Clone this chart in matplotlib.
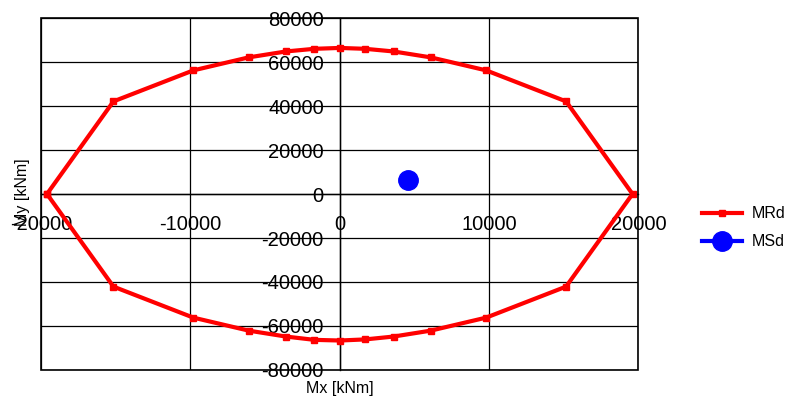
import matplotlib
matplotlib.use("Agg")
import matplotlib.pyplot as plt
from matplotlib.patches import Rectangle

plt.rcParams['font.family'] = ['Liberation Sans', 'DejaVu Sans']

# Resistance envelope MRd (closed polygon)
mrd_x = [-19600, -15150, -9800, -6100, -3600, -1700, 0, 1700, 3600, 6100, 9800, 15150, 19600,
         15150, 9800, 6100, 3600, 1700, 0, -1700, -3600, -6100, -9800, -15150, -19600]
mrd_y = [0, 42100, 56200, 62100, 64800, 66000, 66400, 66000, 64800, 62100, 56200, 42100, 0,
         -42100, -56200, -62100, -64800, -66100, -66600, -66300, -64800, -62100, -56200, -42100, 0]

# Design moment MSd
msd_x = [4600]
msd_y = [6400]

x_ticks = [-20000, -10000, 0, 10000, 20000]
y_ticks = [-80000, -60000, -40000, -20000, 0, 20000, 40000, 60000, 80000]

fig = plt.figure(figsize=(7.87, 4.03), dpi=100)
ax = fig.add_axes([0.0521, 0.0819, 0.7592, 0.8734])

ax.plot(mrd_x, mrd_y, color='#ff0000', lw=3.0, marker='s', markersize=5, label='MRd', zorder=3)
ax.plot(msd_x, msd_y, color='#0000ff', lw=3.0, marker='o', markersize=14, label='MSd', zorder=4)

ax.set_xlim(-20000, 20000)
ax.set_ylim(-80000, 80000)
ax.set_xticks(x_ticks)
ax.set_yticks(y_ticks)
ax.set_xticklabels([str(v) for v in x_ticks])
ax.set_yticklabels([str(v) for v in y_ticks])

ax.grid(True, color='black', lw=0.9)
ax.set_axisbelow(True)

ax.spines['left'].set_position(('data', 0))
ax.spines['bottom'].set_position(('data', 0))
for s in ['left', 'bottom']:
    ax.spines[s].set_linewidth(1.0)
    ax.spines[s].set_color('black')
for s in ['top', 'right']:
    ax.spines[s].set_visible(False)
ax.add_patch(Rectangle((0, 0), 1, 1, transform=ax.transAxes, fill=False,
                       edgecolor='black', lw=1.2, clip_on=False, zorder=5))

ax.tick_params(axis='x', length=0, pad=15, labelsize=14.5)
ax.tick_params(axis='y', length=0, pad=11.5, labelsize=14.5)

fig.text(340 / 787, 1 - 389 / 403, 'Mx [kNm]', ha='center', va='center', fontsize=11.5)
fig.text(22 / 787, 1 - 192 / 403, 'My [kNm]', ha='center', va='center', rotation=90, fontsize=11.5)

leg = ax.legend(loc='upper left', bbox_to_anchor=(688 / 787, 1 - 192 / 403),
                bbox_transform=fig.transFigure, frameon=False, fontsize=11.5,
                handlelength=2.5, handletextpad=0.6, labelspacing=0.8)

fig.savefig('out.png', dpi=100)
